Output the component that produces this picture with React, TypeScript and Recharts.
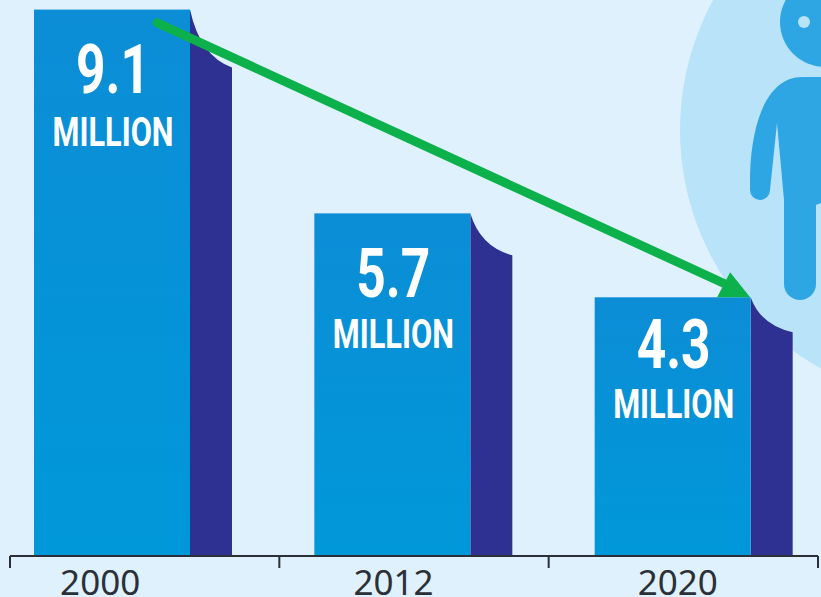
import { Bar, ComposedChart, ReferenceLine, XAxis, YAxis } from 'recharts'

const years = ['2000', '2012', '2020']
const millions = [9.1, 5.7, 4.3]
const UNIT = 'MILLION'

// drop of the curved top edge on each bar's shaded side
const sideDrops = [58, 42, 35]
// how far the labels sit below each bar's top
const valueDrops = [83, 84, 71]
const unitDrops = [136, 135, 121]
// year labels do not sit exactly under the bars
const yearShifts = [-12, 1, 5]

const arrowFrom = { x: 0.546, y: 8.88 }
const arrowTo = { x: 2.748, y: 4.3 }

const COLORS = {
  page: '#dff1fc',
  circle: '#b9e3f9',
  person: '#2ea6e3',
  barTop: '#0c8dd6',
  barBottom: '#0098d9',
  side: '#2e3192',
  arrow: '#0db14b',
  axis: '#2b3038',
}

const LABEL_FONT = 'Roboto, sans-serif'
const SIDE_WIDTH = 42

const BarWithSide = (props: any) => {
  const { x, y, width, height, index, value } = props
  const right = x + width
  const drop = sideDrops[index]
  const centre = x + width / 2 + 1
  const fillId = `bar-fill-${index}`
  return (
    <g>
      <defs>
        <linearGradient id={fillId} x1="0" y1="0" x2="0" y2="1">
          <stop offset="0" stopColor={COLORS.barTop} />
          <stop offset="1" stopColor={COLORS.barBottom} />
        </linearGradient>
      </defs>
      <path
        d={`M${right} ${y} Q${right + 10} ${y + drop * 0.8} ${right + SIDE_WIDTH} ${y + drop} L${right + SIDE_WIDTH} ${y + height} L${right} ${y + height} Z`}
        fill={COLORS.side}
      />
      <rect x={x} y={y} width={width} height={height} fill={`url(#${fillId})`} />
      <text
        x={centre}
        y={y + valueDrops[index]}
        textAnchor="middle"
        fill="#fff"
        fontFamily={LABEL_FONT}
        fontWeight={700}
        fontSize={68}
        textLength={74}
        lengthAdjust="spacingAndGlyphs"
      >
        {value}
      </text>
      <text
        x={centre}
        y={y + unitDrops[index]}
        textAnchor="middle"
        fill="#fff"
        fontFamily={LABEL_FONT}
        fontWeight={700}
        fontSize={41}
        textLength={121}
        lengthAdjust="spacingAndGlyphs"
      >
        {UNIT}
      </text>
    </g>
  )
}

const YearTick = ({ x, index, payload }: any) => (
  <text
    x={x + yearShifts[index]}
    y={595}
    textAnchor="middle"
    fill={COLORS.axis}
    fontFamily="'Noto Sans', sans-serif"
    fontSize={35}
  >
    {payload.value}
  </text>
)

const Arrow = ({ x1, y1, x2, y2 }: any) => (
  <g fill={COLORS.arrow}>
    <line
      x1={x1}
      y1={y1}
      x2={x2 - 20}
      y2={y2 - 11}
      stroke={COLORS.arrow}
      strokeWidth={9}
      strokeLinecap="round"
    />
    <polygon points={`${x2},${y2} ${x2 - 33},${y2} ${x2 - 20},${y2 - 25}`} />
  </g>
)

// sits behind the chart, cut off by the page edge
const PersonBadge = () => (
  <svg width={821} height={597} style={{ position: 'absolute', left: 0, top: 0 }}>
    <circle cx={952} cy={130} r={272} fill={COLORS.circle} />
    <circle cx={825} cy={22} r={45} fill={COLORS.person} />
    <circle cx={804} cy={22} r={6} fill={COLORS.circle} />
    <path
      d="M821 77 L802 77 C772 77 752 112 750 175 L750 190 A10 10 0 0 0 770 190 L777 123 L784 200 L784 284 A16 16 0 0 0 816 284 L816 205 L821 203 Z"
      fill={COLORS.person}
    />
  </svg>
)

export default function App() {
  const data = years.map((year, i) => ({ year, value: millions[i], slot: i }))

  return (
    <div
      style={{
        position: 'absolute',
        left: 0,
        top: 0,
        width: 821,
        height: 597,
        overflow: 'hidden',
        background: COLORS.page,
      }}
    >
      <PersonBadge />
      <ComposedChart
        width={821}
        height={597}
        data={data}
        margin={{ top: 0, right: 3, bottom: 40, left: 10 }}
        style={{ position: 'absolute', left: 0, top: 0 }}
      >
        <YAxis hide domain={[0, 9.26]} />
        {/* slot boundaries: the axis line and its ticks */}
        <XAxis
          xAxisId="frame"
          dataKey="slot"
          type="number"
          domain={[0, 3]}
          ticks={[0, 1, 2, 3]}
          height={1}
          tick={() => <g />}
          tickSize={12}
          tickLine={{ stroke: COLORS.axis, strokeWidth: 2 }}
          stroke={COLORS.axis}
          strokeWidth={2}
          interval={0}
          allowDataOverflow
        />
        <XAxis
          xAxisId="bars"
          dataKey="year"
          height={1}
          padding={{ left: -38, right: 5 }}
          axisLine={false}
          tickLine={false}
          tick={<YearTick />}
          interval={0}
        />
        <Bar
          xAxisId="bars"
          dataKey="value"
          barSize={156}
          shape={<BarWithSide />}
          isAnimationActive={false}
        />
        <ReferenceLine
          xAxisId="frame"
          yAxisId={0}
          segment={[arrowFrom, arrowTo]}
          ifOverflow="visible"
          shape={(p: any) => <Arrow {...p} />}
        />
      </ComposedChart>
    </div>
  )
}
